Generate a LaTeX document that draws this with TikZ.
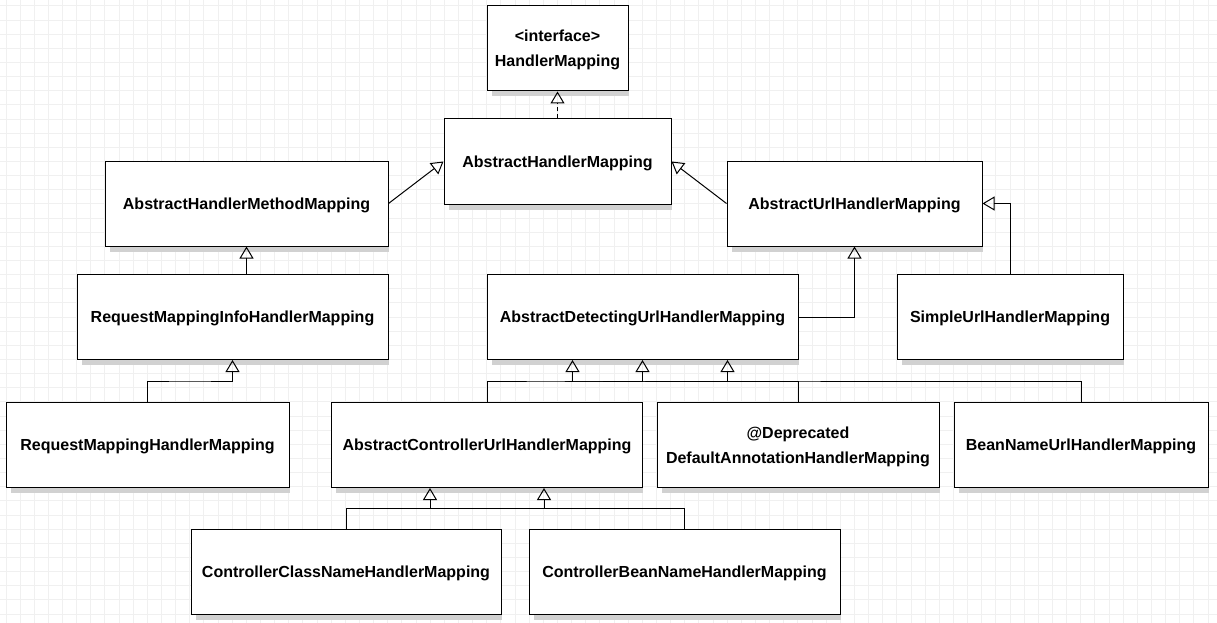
\documentclass[tikz,border=0pt]{standalone}
\usepackage{fontspec}
\setmainfont{Liberation Sans}
\usetikzlibrary{arrows.meta,calc,backgrounds}

\begin{document}
\begin{tikzpicture}[x=1pt,y=-1pt,
    cls/.style={draw,fill=white,line width=1pt,inner sep=0pt,align=center,text depth=0pt,
      font=\fontsize{16}{25}\selectfont\bfseries},
    inh/.style={line width=1pt,-{Triangle[open,width=14pt,length=12pt]}},
    gridline/.style={black!6,line width=1pt},
    shade/.style={black!18}]
\useasboundingbox (0,0) rectangle (1217,623);
% classes
\node[cls,minimum width=141pt,minimum height=85pt] (hm) at (557.5,48.5) {<interface>\\HandlerMapping};
\node[cls,minimum width=227pt,minimum height=85pt] (ahm) at (557.5,161.5) {AbstractHandlerMapping};
\node[cls,minimum width=283pt,minimum height=85pt] (ahmm) at (246.5,203.5) {AbstractHandlerMethodMapping};
\node[cls,minimum width=255pt,minimum height=85pt] (auhm) at (854.5,203.5) {AbstractUrlHandlerMapping};
\node[cls,minimum width=311pt,minimum height=85pt] (rmihm) at (232.5,317) {RequestMappingInfoHandlerMapping};
\node[cls,minimum width=311pt,minimum height=85pt] (aduhm) at (642.5,317) {AbstractDetectingUrlHandlerMapping};
\node[cls,minimum width=226pt,minimum height=85pt] (suhm) at (1010,317) {SimpleUrlHandlerMapping};
\node[cls,minimum width=283pt,minimum height=85pt] (rmhm) at (147.5,445) {RequestMappingHandlerMapping};
\node[cls,minimum width=311pt,minimum height=85pt] (acuhm) at (487,445) {AbstractControllerUrlHandlerMapping};
\node[cls,minimum width=282pt,minimum height=85pt] (dahm) at (798,445) {@Deprecated\\DefaultAnnotationHandlerMapping};
\node[cls,minimum width=254pt,minimum height=85pt] (bnuhm) at (1081,445) {BeanNameUrlHandlerMapping};
\node[cls,minimum width=310pt,minimum height=85pt] (ccnhm) at (346,572) {ControllerClassNameHandlerMapping};
\node[cls,minimum width=311pt,minimum height=85pt] (cbnhm) at (684.5,572) {ControllerBeanNameHandlerMapping};
% grid and shadows
\begin{scope}[on background layer]
\foreach \i in {0,...,85} \draw[gridline] (6+\i*14.142,0) -- (6+\i*14.142,623);
\foreach \j in {0,...,43} \draw[gridline] (0,6+\j*14.142) -- (1217,6+\j*14.142);
\foreach \n in {hm,ahm,ahmm,auhm,rmihm,aduhm,suhm,rmhm,acuhm,dahm,bnuhm,ccnhm,cbnhm}
  \fill[shade] ($(\n.north east)+(0,5)$) rectangle ($(\n.south west)+(5,5)$);
\end{scope}
% inheritance
\draw[inh,dash pattern=on 4pt off 3pt] (ahm.north) -- (hm.south);
\draw[inh] (ahmm.east) -- (ahm.west);
\draw[inh] (auhm.west) -- (ahm.east);
\draw[inh] (ahmm.south |- rmihm.north) -- (ahmm.south);
\draw[inh] (rmhm.north) |- ($(rmhm.north)!.5!(rmihm.south)$) -| (rmihm.south);
\draw[inh] (aduhm.east) -| (auhm.south);
\draw[inh] (suhm.north) |- (auhm.east);
\coordinate (bus) at ($(aduhm.south)!.5!(acuhm.north)$);
\draw[inh] (acuhm.north) |- (bus) -| (aduhm.south);
\draw[inh] (dahm.north) |- (bus) -| ($(aduhm.south)+(-70,0)$);
\draw[inh] (bnuhm.north) |- (bus) -| ($(aduhm.south)+(85,0)$);
\coordinate (bus2) at ($(acuhm.south)!.5!(ccnhm.north)$);
\draw[inh] (ccnhm.north) |- (bus2) -| ($(acuhm.south)+(57,0)$);
\draw[inh] (cbnhm.north) |- (bus2) -| ($(acuhm.south)+(-57,0)$);
\end{tikzpicture}
\end{document}
